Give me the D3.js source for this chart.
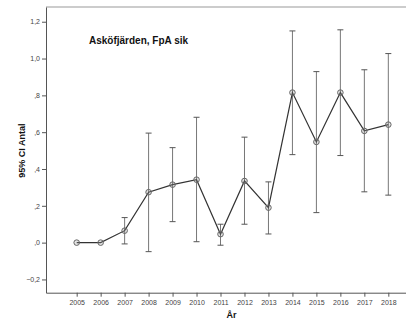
<!DOCTYPE html>
<html>
<head>
<meta charset="utf-8">
<script src="https://cdn.jsdelivr.net/npm/d3@7"></script>
<style>
  body { margin: 0; background: #fff; }
  text { font-family: "Liberation Sans", Arial, sans-serif; }
</style>
</head>
<body>
<div class="chart"></div>
<script>
const years = [2005, 2006, 2007, 2008, 2009, 2010, 2011, 2012, 2013, 2014, 2015, 2016, 2017, 2018];
const means = [0, 0, 0.065, 0.274, 0.315, 0.342, 0.046, 0.335, 0.19, 0.815, 0.547, 0.815, 0.607, 0.641];
const upper = [0, 0, 0.136, 0.595, 0.516, 0.681, 0.10, 0.573, 0.33, 1.15, 0.929, 1.156, 0.939, 1.027];
const lower = [0, 0, -0.007, -0.049, 0.114, 0.005, -0.014, 0.10, 0.047, 0.478, 0.163, 0.473, 0.276, 0.258];
const yTicks = [-0.2, 0, 0.2, 0.4, 0.6, 0.8, 1.0, 1.2];

const svgW = 406;
const svgH = 322;
const plotL = 46, plotT = 7, plotB = 292.7, plotR = 419;

const xScale = d3.scaleLinear()
    .domain([2003.72, 2019.28])
    .range([plotL, plotR]);

const yScale = d3.scaleLinear()
    .domain([-0.272, 1.28])
    .range([plotB, plotT]);

// SPSS style: ",2" and "-,2"
const fmt = v => {
    let s = d3.format(".1f")(v).replace(".", ",");
    return s.replace(/^0,/, ",").replace(/^-0,/, "-,");
};

const svg = d3.select(".chart")
    .append("svg")
    .attr("width", svgW)
    .attr("height", svgH);

// top frame line
svg.append("line")
    .attr("x1", plotL).attr("x2", svgW)
    .attr("y1", plotT).attr("y2", plotT)
    .style("stroke", "#999").style("stroke-width", 1);

const yAxis = svg.append("g")
    .attr("transform", `translate(${plotL}, 0)`)
    .call(d3.axisLeft(yScale).tickValues(yTicks).tickFormat(fmt).tickSize(4).tickPadding(2).tickSizeOuter(0));

const xAxis = svg.append("g")
    .attr("transform", `translate(0, ${plotB})`)
    .call(d3.axisBottom(xScale).tickValues(years).tickFormat(d3.format("d")).tickSize(4).tickPadding(3).tickSizeOuter(0));

[yAxis, xAxis].forEach(a => {
    a.select(".domain").style("stroke", "#555");
    a.selectAll(".tick line").style("stroke", "#555");
    a.selectAll(".tick text")
        .style("font-size", "7px")
        .style("fill", "#444");
});

const data = years.map((y, i) => ({ year: y, mean: means[i], hi: upper[i], lo: lower[i] }));
const bars = data.filter(d => d.hi !== d.lo);

// error bars
svg.selectAll(".err")
    .data(bars)
    .enter()
    .append("line")
    .attr("x1", d => xScale(d.year)).attr("x2", d => xScale(d.year))
    .attr("y1", d => yScale(d.hi)).attr("y2", d => yScale(d.lo))
    .style("stroke", "#777").style("stroke-width", 1);

["hi", "lo"].forEach(k => {
    svg.selectAll(".cap-" + k)
        .data(bars)
        .enter()
        .append("line")
        .attr("x1", d => xScale(d.year) - 3).attr("x2", d => xScale(d.year) + 3)
        .attr("y1", d => yScale(d[k])).attr("y2", d => yScale(d[k]))
        .style("stroke", "#555").style("stroke-width", 1);
});

const line = d3.line()
    .x(d => xScale(d.year))
    .y(d => yScale(d.mean));

svg.append("path")
    .datum(data)
    .attr("d", line)
    .style("fill", "none")
    .style("stroke", "#333")
    .style("stroke-width", 1.2);

svg.selectAll(".pt")
    .data(data)
    .enter()
    .append("circle")
    .attr("cx", d => xScale(d.year))
    .attr("cy", d => yScale(d.mean))
    .attr("r", 2.8)
    .style("fill", "rgba(150,150,150,0.25)")
    .style("stroke", "#666")
    .style("stroke-width", 1);

svg.append("text")
    .text("Asköfjärden, FpA sik")
    .attr("x", 89)
    .attr("y", 44)
    .style("font-size", "10px")
    .style("font-weight", "bold")
    .style("fill", "#111");

svg.append("text")
    .text("95% CI Antal")
    .attr("transform", `translate(25, ${yScale(0.5)}) rotate(-90)`)
    .style("text-anchor", "middle")
    .style("font-size", "9px")
    .style("font-weight", "bold")
    .style("fill", "#111");

svg.append("text")
    .text("År")
    .attr("x", 231.5)
    .attr("y", 318)
    .style("text-anchor", "middle")
    .style("font-size", "9px")
    .style("font-weight", "bold")
    .style("fill", "#111");
</script>
</body>
</html>
